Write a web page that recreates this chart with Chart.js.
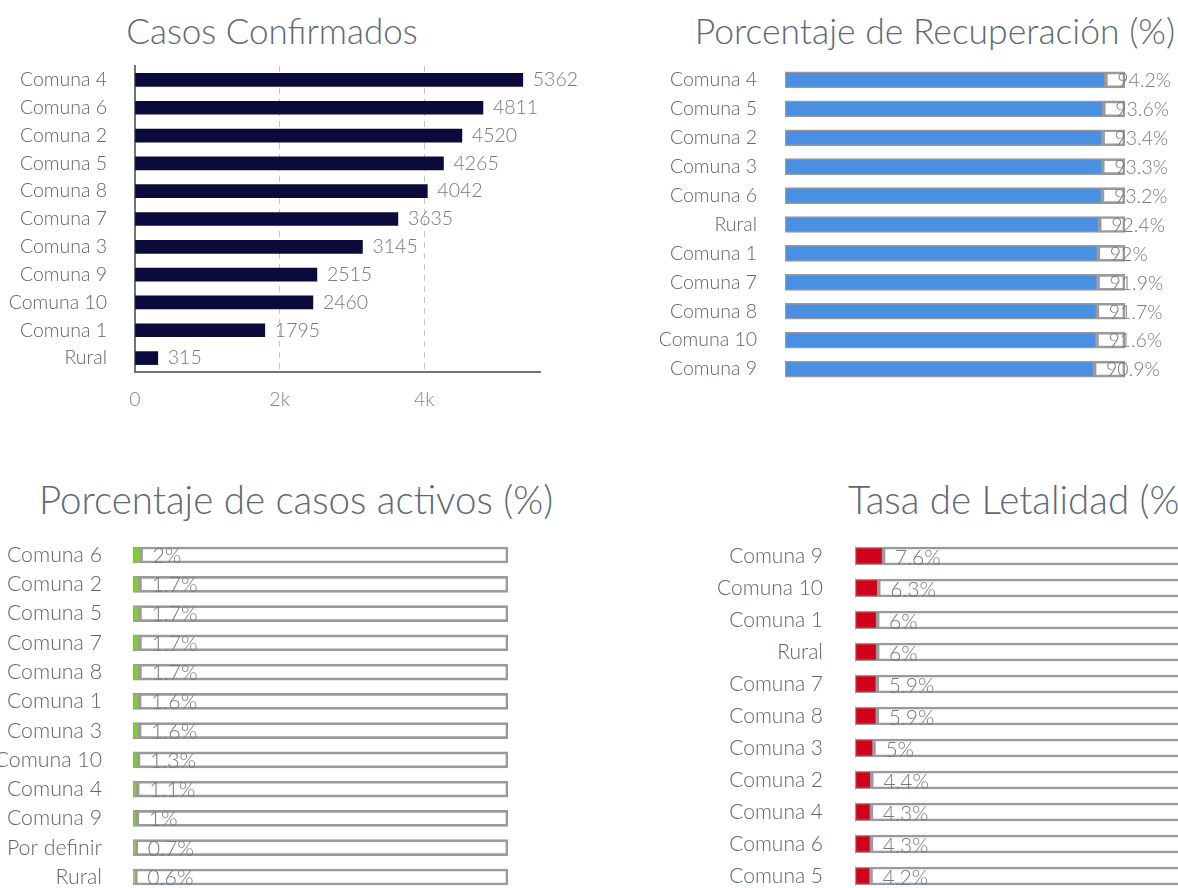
<!DOCTYPE html>
<html>
<head>
<meta charset="utf-8">
<script src="https://cdn.jsdelivr.net/npm/chart.js@4"></script>
<style>
html, body { margin: 0; padding: 0; background: #fff; overflow: hidden; width: 1178px; height: 888px; position: relative; font-family: Lato, sans-serif; }
.title { position: absolute; color: #5e6a73; font-weight: 300; white-space: nowrap; line-height: 1; transform: translateX(-50%); }
canvas { position: absolute; }
</style>
</head>
<body>
<div class="title" style="left:272px;top:13px;font-size:35px">Casos Confirmados</div>
<div class="title" style="left:935px;top:13px;font-size:35.5px">Porcentaje de Recuperación (%)</div>
<div class="title" style="left:296px;top:480px;font-size:38.5px">Porcentaje de casos activos (%)</div>
<div class="title" style="left:848px;top:480px;font-size:38.5px;transform:none">Tasa de Letalidad (%)</div>

<canvas id="c1" width="600" height="420" style="left:0;top:0"></canvas>
<canvas id="c2" width="578" height="400" style="left:600px;top:0"></canvas>
<canvas id="c3" width="560" height="460" style="left:0;top:440px"></canvas>
<canvas id="c4" width="600" height="460" style="left:640px;top:440px"></canvas>

<script>
// casos confirmados
const comunasCasos = ['Comuna 4', 'Comuna 6', 'Comuna 2', 'Comuna 5', 'Comuna 8', 'Comuna 7', 'Comuna 3', 'Comuna 9', 'Comuna 10', 'Comuna 1', 'Rural'];
const casos = [5362, 4811, 4520, 4265, 4042, 3635, 3145, 2515, 2460, 1795, 315];
const casosTicks = [0, 2000, 4000];
const casosTickLabels = ['0', '2k', '4k'];

// porcentaje de recuperacion
const comunasRecup = ['Comuna 4', 'Comuna 5', 'Comuna 2', 'Comuna 3', 'Comuna 6', 'Rural', 'Comuna 1', 'Comuna 7', 'Comuna 8', 'Comuna 10', 'Comuna 9'];
const recuperacion = [94.2, 93.6, 93.4, 93.3, 93.2, 92.4, 92, 91.9, 91.7, 91.6, 90.9];

// porcentaje de casos activos
const comunasActivos = ['Comuna 6', 'Comuna 2', 'Comuna 5', 'Comuna 7', 'Comuna 8', 'Comuna 1', 'Comuna 3', 'Comuna 10', 'Comuna 4', 'Comuna 9', 'Por definir', 'Rural'];
const activos = [2, 1.7, 1.7, 1.7, 1.7, 1.6, 1.6, 1.3, 1.1, 1, 0.7, 0.6];

// tasa de letalidad
const comunasLetal = ['Comuna 9', 'Comuna 10', 'Comuna 1', 'Rural', 'Comuna 7', 'Comuna 8', 'Comuna 3', 'Comuna 2', 'Comuna 4', 'Comuna 6', 'Comuna 5'];
const letalidad = [7.6, 6.3, 6, 6, 5.9, 5.9, 5, 4.4, 4.3, 4.3, 4.2];

const tickColor = '#5b666f';
const labelColor = '#707b84';
const boxColor = '#9a9a9a';

// draws the value next to the end of the first dataset's bars
const valueLabels = {
  id: 'valueLabels',
  afterDatasetDraw(chart, args, opts) {
    if (args.index !== 0) return;
    const ctx = chart.ctx;
    ctx.save();
    ctx.font = '300 ' + opts.size + 'px Lato';
    ctx.fillStyle = labelColor;
    ctx.textAlign = 'left';
    ctx.textBaseline = 'middle';
    args.meta.data.forEach((bar, i) => {
      const v = chart.data.datasets[0].data[i];
      ctx.fillText(v + opts.suffix, bar.x + opts.gap, bar.y + opts.dy);
    });
    ctx.restore();
  }
};
Chart.register(valueLabels);

new Chart(document.getElementById('c1'), {
  type: 'bar',
  data: {
    labels: comunasCasos,
    datasets: [{ data: casos, backgroundColor: '#0b0a3c', barThickness: 13 }]
  },
  options: {
    indexAxis: 'y',
    responsive: false,
    animation: false,
    layout: { padding: { top: 66, right: 60, bottom: 3, left: 0 } },
    plugins: {
      legend: { display: false },
      tooltip: { enabled: false },
      valueLabels: { size: 19.5, suffix: '', gap: 10, dy: 0 }
    },
    scales: {
      x: {
        min: 0,
        max: 5600,
        afterBuildTicks: s => { s.ticks = casosTicks.map(v => ({ value: v })); },
        afterFit: s => { s.height = 45; },
        ticks: {
          padding: 16,
          color: '#7b868e',
          font: { family: 'Lato', size: 19.5, weight: 300 },
          callback: (v, i) => casosTickLabels[i]
        },
        grid: { drawTicks: false, color: c => c.tick && c.tick.value === 0 ? 'rgba(0,0,0,0)' : '#c4c4c4' },
        border: { color: '#6f7478', width: 2, dash: [6, 5] }
      },
      y: {
        afterFit: s => { s.width = 135; s.paddingTop = 0; s.paddingBottom = 0; },
        grid: { display: false, drawTicks: false },
        border: { color: '#6f7478', width: 2 },
        ticks: { padding: 28, color: tickColor, font: { family: 'Lato', size: 19.5, weight: 300 } }
      }
    }
  }
});

// stacked 0-100 bars: value + empty remainder box
function percentChart(id, labels, values, color, o) {
  return new Chart(document.getElementById(id), {
    type: 'bar',
    data: {
      labels: labels,
      datasets: [
        { data: values, backgroundColor: color, borderColor: boxColor, borderWidth: 1.5, borderSkipped: false, barThickness: o.thick },
        { data: values.map(v => +(100 - v).toFixed(1)), backgroundColor: 'rgba(255,255,255,0)', borderColor: boxColor, borderWidth: 2, borderSkipped: false, barThickness: o.thick }
      ]
    },
    options: {
      indexAxis: 'y',
      responsive: false,
      animation: false,
      layout: { padding: o.padding },
      plugins: {
        legend: { display: false },
        tooltip: { enabled: false },
        valueLabels: { size: o.font, suffix: '%', gap: o.gap, dy: o.dy }
      },
      scales: {
        x: { display: false, stacked: true, min: 0, max: 100 },
        y: {
          stacked: true,
          // fixed label column, and no extra room above/below for the labels
          afterFit: s => { s.width = o.axisWidth; s.paddingTop = 0; s.paddingBottom = 0; },
          grid: { display: false, drawTicks: false },
          border: { display: false },
          ticks: { padding: o.tickPad, color: tickColor, font: { family: 'Lato', size: o.font, weight: 300 } }
        }
      }
    }
  });
}

percentChart('c2', comunasRecup, recuperacion, '#4a90e2', {
  thick: 16, font: 19.5, gap: 12, dy: 1, axisWidth: 185, tickPad: 28,
  padding: { top: 65.5, right: 53, bottom: 16.5, left: 0 }
});
percentChart('c3', comunasActivos, activos, '#7ed321', {
  thick: 16, font: 21.3, gap: 12, dy: 1, axisWidth: 133, tickPad: 31,
  padding: { top: 100.4, right: 52, bottom: 8.4, left: 0 }
});
percentChart('c4', comunasLetal, letalidad, '#d0021b', {
  thick: 18, font: 21, gap: 12, dy: 2, axisWidth: 215, tickPad: 32,
  padding: { top: 100, right: 17, bottom: 8, left: 0 }
});
</script>
</body>
</html>
